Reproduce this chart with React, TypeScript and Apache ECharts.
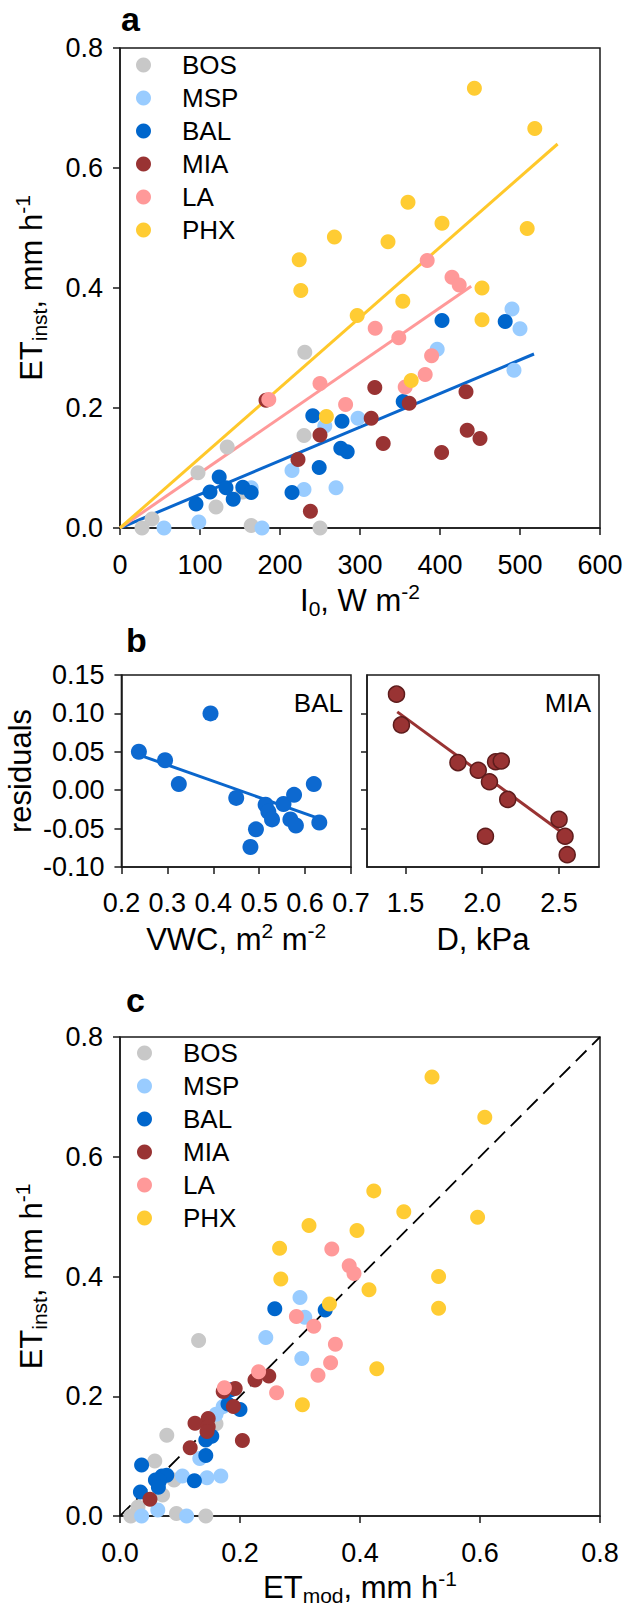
import React, { useEffect, useRef } from 'react';
import * as echarts from 'echarts';

// ---------------- Data ----------------
const SITES = ['BOS', 'MSP', 'BAL', 'MIA', 'LA', 'PHX'];

// Panel a: I0 (W m-2) vs ET_inst (mm h-1); panel c: ET_mod vs ET_inst
const BOS_I0 = [231, 134, 230, 97.5, 120, 153.5, 40, 27.5, 164, 250];
const BOS_ET = [0.293, 0.135, 0.154, 0.092, 0.035, 0.06, 0.015, 0.0, 0.004, 0.0];
const BOS_MOD = [0.131, 0.078, 0.16, 0.058, 0.071, 0.09, 0.03, 0.018, 0.094, 0.143];

const MSP_I0 = [490, 500, 396.5, 492.5, 297.5, 256, 215, 230, 270, 164, 98.5, 55, 177.5];
const MSP_ET = [0.365, 0.332, 0.298, 0.263, 0.183, 0.17, 0.096, 0.064, 0.067, 0.067, 0.01, 0.0, 0.0];
const MSP_MOD = [0.3, 0.308, 0.243, 0.303, 0.172, 0.16, 0.133, 0.145, 0.104, 0.168, 0.063, 0.036, 0.111];

const BAL_I0 = [402.5, 481.5, 354, 241, 277.5, 276, 284, 249, 124, 132.5, 112.5, 153.5, 164, 141.5, 95, 215];
const BAL_ET = [0.346, 0.344, 0.211, 0.187, 0.178, 0.133, 0.127, 0.101, 0.085, 0.067, 0.06, 0.068, 0.059, 0.048, 0.04, 0.059];
const BAL_MOD = [0.258, 0.342, 0.185, 0.18, 0.2, 0.153, 0.143, 0.143, 0.036, 0.07, 0.059, 0.078, 0.066, 0.064, 0.034, 0.124];

const MIA_I0 = [318.5, 432.5, 182.5, 361.5, 314, 434, 250, 450, 329, 402, 222.5, 238];
const MIA_ET = [0.234, 0.227, 0.213, 0.208, 0.183, 0.163, 0.155, 0.149, 0.141, 0.126, 0.114, 0.028];
const MIA_MOD = [0.248, 0.225, 0.192, 0.172, 0.189, 0.147, 0.125, 0.147, 0.145, 0.204, 0.117, 0.05];

const LA_I0 = [384, 415, 424, 319, 348.5, 389.5, 381.5, 356.5, 250, 282, 186];
const LA_ET = [0.446, 0.418, 0.405, 0.333, 0.317, 0.287, 0.256, 0.235, 0.241, 0.206, 0.214];
const LA_MOD = [0.353, 0.382, 0.39, 0.294, 0.323, 0.359, 0.351, 0.33, 0.231, 0.261, 0.174];

const PHX_I0 = [443, 518.5, 360, 402.5, 509, 268, 335, 224, 226, 452.5, 353.5, 296.5, 452.5, 364, 258];
const PHX_ET = [0.733, 0.666, 0.543, 0.508, 0.499, 0.485, 0.477, 0.447, 0.396, 0.4, 0.378, 0.354, 0.347, 0.246, 0.186];
const PHX_MOD = [0.52, 0.608, 0.423, 0.473, 0.596, 0.315, 0.395, 0.266, 0.268, 0.531, 0.415, 0.349, 0.531, 0.428, 0.304];

// Regression lines in panel a (start, end)
const PHX_FIT = [[0, 0], [547, 0.64]];
const LA_FIT = [[0, 0], [439, 0.403]];
const BAL_FIT = [[0, 0], [517.5, 0.29]];

// Panel b: residuals
const BAL_VWC = [0.238, 0.295, 0.325, 0.394, 0.45, 0.514, 0.52, 0.528, 0.553, 0.576, 0.619, 0.568, 0.58, 0.631, 0.493, 0.481];
const BAL_RES = [0.05, 0.039, 0.008, 0.1, -0.01, -0.019, -0.028, -0.038, -0.018, -0.006, 0.008, -0.038, -0.046, -0.042, -0.051, -0.074];
const BAL_RES_FIT = [[0.238, 0.046], [0.631, -0.037]];

const MIA_D = [1.442, 1.474, 1.842, 1.974, 2.047, 2.087, 2.124, 2.166, 2.021, 2.5, 2.539, 2.553];
const MIA_RES = [0.125, 0.085, 0.036, 0.026, 0.011, 0.037, 0.038, -0.012, -0.06, -0.038, -0.06, -0.084];
const MIA_RES_FIT = [[1.447, 0.102], [2.526, -0.056]];

// Panel c 1:1 line
const ONE_TO_ONE = [[0, 0], [0.8, 0.8]];

// Tick values
const B_RIGHT_X_TICKS = [1.5, 2.0, 2.5];
const B_RIGHT_Y_TICKS = [-0.05, 0.0, 0.05, 0.1];

// ---------------- Styles ----------------
const FONT = "'Liberation Sans', Arial, Helvetica, sans-serif";
const COLORS: Record<string, string> = {
  BOS: '#c8c8c8',
  MSP: '#99ccff',
  BAL: '#0066cc',
  MIA: '#993333',
  LA: '#ff9999',
  PHX: '#ffcc33',
};
const AXIS_COLOR = '#1a1a1a';
const TICK_FS = 27;
const TITLE_FS = 31;

const nameRich = {
  n: { fontSize: TITLE_FS, fontFamily: FONT, color: '#000', lineHeight: 38 },
  sub: { fontSize: 21, fontFamily: FONT, color: '#000', verticalAlign: 'bottom', lineHeight: 21 },
  sup: { fontSize: 21, fontFamily: FONT, color: '#000', verticalAlign: 'top', lineHeight: 21 },
};

function lbl(margin: number, formatter?: (v: number) => string, extra: any = {}) {
  return { color: '#000', fontSize: TICK_FS, fontFamily: FONT, margin, formatter, ...extra };
}

function axisBase(extra: any) {
  return {
    type: 'value',
    splitLine: { show: false },
    axisLine: { show: true, onZero: false, lineStyle: { color: AXIS_COLOR, width: 1.5 } },
    axisTick: { show: true, inside: false, length: 7, lineStyle: { color: AXIS_COLOR, width: 1.5 } },
    axisLabel: lbl(20),
    nameLocation: 'middle',
    nameTextStyle: { fontSize: TITLE_FS, fontFamily: FONT, color: '#000', lineHeight: 38, rich: nameRich },
    ...extra,
  };
}

const zip = (xs: number[], ys: number[]) => xs.map((x, i) => [x, ys[i]]);

function scatter(name: string, xs: number[], ys: number[], gi: number, color: string, size = 15, extra: any = {}) {
  return {
    type: 'scatter',
    name,
    xAxisIndex: gi,
    yAxisIndex: gi,
    data: zip(xs, ys),
    symbol: 'circle',
    symbolSize: size,
    itemStyle: { color, opacity: 1, ...(extra.itemStyle || {}) },
    silent: true,
    z: 3,
  };
}

function fitLine(name: string, pts: number[][], gi: number, color: string, width = 3, type: any = 'solid') {
  return {
    type: 'line',
    name,
    xAxisIndex: gi,
    yAxisIndex: gi,
    data: pts,
    symbol: 'none',
    showSymbol: false,
    lineStyle: { color, width, type },
    silent: true,
    z: 2,
  };
}

export default function App() {
  const ref = useRef<HTMLDivElement>(null);

  useEffect(() => {
    if (!ref.current) return;
    const chart = echarts.init(ref.current, null, { renderer: 'svg' });

    const legendText = {
      fontSize: 26,
      fontFamily: FONT,
      color: '#000',
      lineHeight: 26,
      rich: { g: { width: 26 } },
    };

    const aData: Record<string, [number[], number[], number[]]> = {
      BOS: [BOS_I0, BOS_ET, BOS_MOD],
      MSP: [MSP_I0, MSP_ET, MSP_MOD],
      BAL: [BAL_I0, BAL_ET, BAL_MOD],
      MIA: [MIA_I0, MIA_ET, MIA_MOD],
      LA: [LA_I0, LA_ET, LA_MOD],
      PHX: [PHX_I0, PHX_ET, PHX_MOD],
    };

    const series: any[] = [];
    // Panel a
    series.push(fitLine('BAL fit', BAL_FIT, 0, '#0a66cc'));
    series.push(fitLine('LA fit', LA_FIT, 0, '#ff9999'));
    series.push(fitLine('PHX fit', PHX_FIT, 0, '#ffc82a'));
    SITES.forEach((s) => series.push(scatter(s, aData[s][0], aData[s][1], 0, COLORS[s])));
    // Panel b
    series.push(fitLine('BAL res fit', BAL_RES_FIT, 1, '#0a66cc'));
    series.push(scatter('BAL residuals', BAL_VWC, BAL_RES, 1, '#0d69d0', 16));
    series.push(fitLine('MIA res fit', MIA_RES_FIT, 2, '#993333'));
    series.push(
      scatter('MIA residuals', MIA_D, MIA_RES, 2, '#993333', 16, {
        itemStyle: { borderColor: '#5e1c1c', borderWidth: 1.5 },
      })
    );
    // Panel c
    series.push(fitLine('1:1', ONE_TO_ONE, 3, '#000', 1.8, [15, 8]));
    SITES.forEach((s) => series.push(scatter(s, aData[s][2], aData[s][1], 3, COLORS[s])));

    const f1 = (v: number) => v.toFixed(1);
    const f2 = (v: number) => v.toFixed(2);

    const option: any = {
      animation: false,
      backgroundColor: '#fff',
      textStyle: { fontFamily: FONT },
      grid: [
        { left: 120, top: 48, width: 480, height: 480, show: true, borderColor: AXIS_COLOR, borderWidth: 1.5 },
        { left: 121, top: 675, width: 230, height: 192, show: true, borderColor: AXIS_COLOR, borderWidth: 1.5 },
        { left: 367, top: 675, width: 232, height: 192, show: true, borderColor: AXIS_COLOR, borderWidth: 1.5 },
        { left: 120, top: 1037, width: 480, height: 479, show: true, borderColor: AXIS_COLOR, borderWidth: 1.5 },
      ],
      xAxis: [
        axisBase({
          gridIndex: 0, min: 0, max: 600, interval: 100,
          name: '{n|I}{sub|0}{n|, W m}{sup|-2}', nameGap: 53,
          axisLabel: lbl(23),
        }),
        axisBase({
          gridIndex: 1, min: 0.2, max: 0.7, interval: 0.1,
          name: '{n|VWC, m}{sup|2}{n| m}{sup|-2}', nameGap: 53,
          axisLabel: lbl(22, f1),
        }),
        axisBase({
          gridIndex: 2, min: 1.25, max: 2.76,
          name: '{n|D, kPa}', nameGap: 53,
          axisTick: { show: true, inside: false, length: 7, customValues: B_RIGHT_X_TICKS, lineStyle: { color: AXIS_COLOR, width: 1.5 } },
          axisLabel: lbl(22, f1, { customValues: B_RIGHT_X_TICKS }),
        }),
        axisBase({
          gridIndex: 3, min: 0, max: 0.8, interval: 0.2,
          name: '{n|ET}{sub|mod}{n|, mm h}{sup|-1}', nameGap: 52,
          axisLabel: lbl(23, f1),
        }),
      ],
      yAxis: [
        axisBase({
          gridIndex: 0, min: 0, max: 0.8, interval: 0.2,
          name: '{n|ET}{sub|inst}{n|, mm h}{sup|-1}', nameGap: 70, nameRotate: 90,
          axisLabel: lbl(17, f1),
        }),
        axisBase({
          gridIndex: 1, min: -0.1, max: 0.15, interval: 0.05,
          name: '{n|residuals}', nameGap: 80, nameRotate: 90,
          axisLabel: lbl(17, f2),
        }),
        axisBase({
          gridIndex: 2, min: -0.1, max: 0.15,
          axisTick: { show: true, inside: false, length: 6, customValues: B_RIGHT_Y_TICKS, lineStyle: { color: AXIS_COLOR, width: 1.5 } },
          axisLabel: { show: false },
        }),
        axisBase({
          gridIndex: 3, min: 0, max: 0.8, interval: 0.2,
          name: '{n|ET}{sub|inst}{n|, mm h}{sup|-1}', nameGap: 70, nameRotate: 90,
          axisLabel: lbl(17, f1),
        }),
      ],
      legend: [
        {
          orient: 'vertical', left: 131, top: 47, itemWidth: 15, itemHeight: 15, itemGap: 7,
          icon: 'circle', selectedMode: false, data: SITES,
          formatter: (n: string) => '{g|}' + n, textStyle: legendText,
        },
        {
          orient: 'vertical', left: 132, top: 1035, itemWidth: 15, itemHeight: 15, itemGap: 7,
          icon: 'circle', selectedMode: false, data: SITES,
          formatter: (n: string) => '{g|}' + n, textStyle: legendText,
        },
      ],
      graphic: [
        { type: 'text', left: 121, top: 2, style: { text: 'a', font: `bold 34px ${FONT}`, fill: '#000' } },
        { type: 'text', left: 126, top: 623, style: { text: 'b', font: `bold 34px ${FONT}`, fill: '#000' } },
        { type: 'text', left: 126, top: 983, style: { text: 'c', font: `bold 34px ${FONT}`, fill: '#000' } },
        { type: 'text', right: 626 - 343, top: 690, style: { text: 'BAL', font: `26px ${FONT}`, fill: '#000' } },
        { type: 'text', right: 626 - 591, top: 690, style: { text: 'MIA', font: `26px ${FONT}`, fill: '#000' } },
      ],
      series,
    };

    chart.setOption(option);
    return () => chart.dispose();
  }, []);

  return <div ref={ref} style={{ position: 'absolute', left: 0, top: 0, width: 626, height: 1614 }} />;
}
